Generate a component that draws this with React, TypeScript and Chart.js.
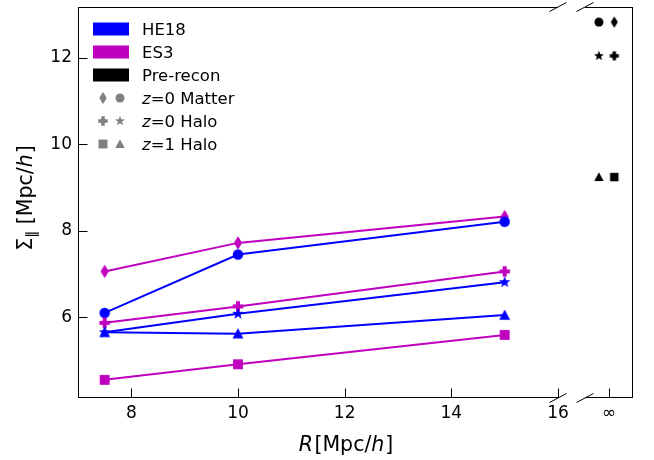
import React, { useEffect, useRef } from 'react';
import { Chart, registerables } from 'chart.js';
Chart.register(...registerables);

// ---- data ----
const R = [7.5, 10, 15];
const xTicks = [8, 10, 12, 14, 16];
const yTicks = [6, 8, 10, 12];
const he18Matter = [6.10, 7.45, 8.21];
const es3Matter = [7.06, 7.72, 8.33];
const he18HaloZ0 = [5.65, 6.08, 6.81];
const es3HaloZ0 = [5.87, 6.25, 7.06];
const he18HaloZ1 = [5.65, 5.62, 6.05];
const es3HaloZ1 = [4.55, 4.91, 5.59];
const preReconSlots = [-0.42, 0.22];
const preReconHE18Style = [12.83, 12.05, 9.245]; // matter, halo z=0, halo z=1 (left slot)
const preReconES3Style = [12.83, 12.05, 9.245]; // matter, halo z=0, halo z=1 (right slot)
const legendPatches = ['HE18', 'ES3', 'Pre-recon'];
const legendMarkerRows = ['=0 Matter', '=0 Halo', '=1 Halo'];

const BLUE = '#0000ff';
const MAGENTA = '#bf00bf';
const BLACK = '#000000';
const GRAY = '#808080';
const FONT = "'DejaVu Sans'";

type Shape = 'circle' | 'diamond' | 'star' | 'plus' | 'triangle' | 'square';

function marker(shape: Shape, color: string, k = 1): HTMLCanvasElement {
  const size = 18;
  const c = document.createElement('canvas');
  c.width = size; c.height = size;
  const ctx = c.getContext('2d')!;
  ctx.fillStyle = color;
  const cx = size / 2, cy = size / 2;
  ctx.beginPath();
  if (shape === 'circle') {
    ctx.arc(cx, cy, 5 * k, 0, Math.PI * 2);
  } else if (shape === 'diamond') {
    const h = 6.4 * k, w = 3.9 * k;
    ctx.moveTo(cx, cy - h); ctx.lineTo(cx + w, cy); ctx.lineTo(cx, cy + h); ctx.lineTo(cx - w, cy); ctx.closePath();
  } else if (shape === 'square') {
    const r = 4.7 * k;
    ctx.rect(cx - r, cy - r, 2 * r, 2 * r);
  } else if (shape === 'triangle') {
    const r = 5.2 * k;
    ctx.moveTo(cx, cy - r); ctx.lineTo(cx + r, cy + r * 0.85); ctx.lineTo(cx - r, cy + r * 0.85); ctx.closePath();
  } else if (shape === 'star') {
    const ro = 5.8 * k, ri = ro * 0.42;
    for (let i = 0; i < 10; i++) {
      const a = -Math.PI / 2 + (i * Math.PI) / 5;
      const r = i % 2 === 0 ? ro : ri;
      const px = cx + r * Math.cos(a), py = cy + r * Math.sin(a);
      if (i === 0) ctx.moveTo(px, py); else ctx.lineTo(px, py);
    }
    ctx.closePath();
  } else if (shape === 'plus') {
    const o = 5 * k, t = 1.9 * k;
    ctx.moveTo(cx - t, cy - o); ctx.lineTo(cx + t, cy - o); ctx.lineTo(cx + t, cy - t); ctx.lineTo(cx + o, cy - t);
    ctx.lineTo(cx + o, cy + t); ctx.lineTo(cx + t, cy + t); ctx.lineTo(cx + t, cy + o); ctx.lineTo(cx - t, cy + o);
    ctx.lineTo(cx - t, cy + t); ctx.lineTo(cx - o, cy + t); ctx.lineTo(cx - o, cy - t); ctx.lineTo(cx - t, cy - t);
    ctx.closePath();
  }
  ctx.fill();
  return c;
}

function pts(ys: number[]) {
  return R.map((x, i) => ({ x, y: ys[i] }));
}

type Piece = { t: string; it?: boolean; size: number; dy?: number; gap?: number };

function drawPieces(ctx: CanvasRenderingContext2D, pieces: Piece[], cx: number, baseline: number) {
  let total = 0;
  const widths = pieces.map((p) => {
    ctx.font = `${p.it ? 'italic ' : ''}${p.size}px ${FONT}`;
    const w = ctx.measureText(p.t).width + (p.gap || 0);
    total += w;
    return w;
  });
  let x = cx - total / 2;
  pieces.forEach((p, i) => {
    ctx.font = `${p.it ? 'italic ' : ''}${p.size}px ${FONT}`;
    ctx.fillText(p.t, x, baseline + (p.dy || 0));
    x += widths[i];
  });
}

const framePlugin = {
  id: 'frame',
  afterDraw(chart: any) {
    const ctx: CanvasRenderingContext2D = chart.ctx;
    const ys = chart.scales.y, xm = chart.scales.x, xi = chart.scales.xinf;
    const top = chart.chartArea.top, bot = chart.chartArea.bottom;
    const TL = 9.5;
    const line = (x1: number, y1: number, x2: number, y2: number) => {
      ctx.beginPath(); ctx.moveTo(x1, y1); ctx.lineTo(x2, y2); ctx.stroke();
    };
    ctx.save();
    ctx.strokeStyle = '#000';
    ctx.lineWidth = 1;
    ctx.lineCap = 'butt';
    // spines
    line(xm.left, top + 0.5, xm.right, top + 0.5);
    line(xm.left, bot - 0.5, xm.right, bot - 0.5);
    line(xm.left + 0.5, top, xm.left + 0.5, bot);
    line(xi.left, top + 0.5, xi.right, top + 0.5);
    line(xi.left, bot - 0.5, xi.right, bot - 0.5);
    line(xi.right - 0.5, top, xi.right - 0.5, bot);
    // inward ticks
    yTicks.forEach((v) => {
      const y = Math.round(ys.getPixelForValue(v)) + 0.5;
      line(xm.left, y, xm.left + TL, y);
    });
    xTicks.forEach((v) => {
      const x = Math.round(xm.getPixelForValue(v)) + 0.5;
      line(x, bot, x, bot - TL);
    });
    const xinf = Math.round(xi.getPixelForValue(0)) + 0.5;
    line(xinf, bot, xinf, bot - TL);
    // break marks
    [xm.right, xi.left].forEach((x) => {
      [top, bot].forEach((y) => line(x - 8.5, y + 4.5, x + 8.5, y - 4.5));
    });

    // legend
    const rowY = [29, 52, 75, 98, 121, 144];
    const patchColors = [BLUE, MAGENTA, BLACK];
    ctx.textBaseline = 'alphabetic';
    ctx.textAlign = 'left';
    legendPatches.forEach((lab, i) => {
      ctx.fillStyle = patchColors[i];
      ctx.fillRect(93, rowY[i] - 6.5, 36, 13);
      ctx.fillStyle = '#000';
      ctx.font = `16.5px ${FONT}`;
      ctx.fillText(lab, 142, rowY[i] + 6);
    });
    const legendShapes: [Shape, Shape][] = [['diamond', 'circle'], ['plus', 'star'], ['square', 'triangle']];
    legendMarkerRows.forEach((lab, j) => {
      const y = rowY[3 + j];
      const [s1, s2] = legendShapes[j];
      const m1 = marker(s1, GRAY, 0.95), m2 = marker(s2, GRAY, 0.9);
      ctx.drawImage(m1, 103 - m1.width / 2, y - m1.height / 2);
      ctx.drawImage(m2, 120 - m2.width / 2, y - m2.height / 2);
      ctx.fillStyle = '#000';
      ctx.font = `italic 16.5px ${FONT}`;
      ctx.fillText('z', 142, y + 6);
      const zw = ctx.measureText('z').width;
      ctx.font = `16.5px ${FONT}`;
      ctx.fillText(lab, 142 + zw, y + 6);
    });

    // axis titles
    ctx.fillStyle = '#000';
    drawPieces(ctx, [
      { t: 'R', it: true, size: 20.5, gap: 1.5 },
      { t: '[Mpc/', size: 20.5 },
      { t: 'h', it: true, size: 20.5, gap: 1 },
      { t: ']', size: 20.5 },
    ], 346, 451);
    ctx.save();
    ctx.translate(32, 198);
    ctx.rotate(-Math.PI / 2);
    drawPieces(ctx, [
      { t: 'Σ', size: 20.5 },
      { t: '∥', size: 14, dy: 4 },
      { t: ' [Mpc/', size: 20.5 },
      { t: 'h', it: true, size: 20.5, gap: 1 },
      { t: ']', size: 20.5 },
    ], 0, 0);
    ctx.restore();
    ctx.restore();
  },
};

export default function App() {
  const ref = useRef<HTMLCanvasElement>(null);
  useEffect(() => {
    if (!ref.current) return;
    const mk = (s: Shape, c: string, k = 1) => marker(s, c, k);
    const lineDs = (ys: number[], color: string, shape: Shape) => ({
      type: 'line' as const,
      data: pts(ys),
      xAxisID: 'x',
      yAxisID: 'y',
      borderColor: color,
      backgroundColor: color,
      borderWidth: 2,
      pointStyle: mk(shape, color, 1.05),
      pointRadius: 5,
      tension: 0,
      fill: false,
    });
    const preDs = (ys: number[], slot: number, shapes: Shape[]) => ({
      type: 'scatter' as const,
      data: ys.map((y) => ({ x: preReconSlots[slot], y })),
      xAxisID: 'xinf',
      yAxisID: 'y',
      showLine: false,
      borderColor: BLACK,
      backgroundColor: BLACK,
      pointStyle: shapes.map((s) => mk(s, BLACK, 0.9)),
      pointRadius: 5,
    });
    const noPadX = (s: any) => { s.height = 62; s.paddingLeft = 0; s.paddingRight = 0; };
    const chart = new Chart(ref.current, {
      type: 'line',
      data: {
        datasets: [
          lineDs(es3HaloZ1, MAGENTA, 'square'),
          lineDs(he18HaloZ1, BLUE, 'triangle'),
          lineDs(he18HaloZ0, BLUE, 'star'),
          lineDs(es3HaloZ0, MAGENTA, 'plus'),
          lineDs(he18Matter, BLUE, 'circle'),
          lineDs(es3Matter, MAGENTA, 'diamond'),
          preDs(preReconHE18Style, 0, ['circle', 'star', 'triangle']),
          preDs(preReconES3Style, 1, ['diamond', 'plus', 'square']),
        ] as any,
      },
      options: {
        animation: false,
        responsive: false,
        devicePixelRatio: 1,
        events: [],
        layout: { padding: { left: 0, top: 6, right: 21, bottom: 0 } },
        plugins: { legend: { display: false }, tooltip: { enabled: false } },
        scales: {
          y: {
            type: 'linear',
            position: 'left',
            min: 4.13,
            max: 13.18,
            grid: { display: false, drawTicks: false },
            border: { display: false },
            afterBuildTicks: (s: any) => { s.ticks = yTicks.map((v) => ({ value: v })); },
            afterFit: (s: any) => { s.width = 78; s.paddingTop = 0; s.paddingBottom = 0; },
            ticks: { color: '#000', padding: 6, font: { family: 'DejaVu Sans', size: 17 } },
          },
          x: {
            type: 'linear',
            position: 'bottom',
            stack: 'xs',
            stackWeight: 480,
            min: 7,
            max: 16,
            grid: { display: false, drawTicks: false },
            border: { display: false },
            afterBuildTicks: (s: any) => { s.ticks = xTicks.map((v) => ({ value: v })); },
            afterFit: noPadX,
            ticks: { color: '#000', padding: 5, maxRotation: 0, font: { family: 'DejaVu Sans', size: 17 } },
          },
          xgap: {
            type: 'linear',
            position: 'bottom',
            stack: 'xs',
            stackWeight: 27,
            min: 0,
            max: 1,
            grid: { display: false, drawTicks: false },
            border: { display: false },
            ticks: { display: false },
            afterFit: noPadX,
          },
          xinf: {
            type: 'linear',
            position: 'bottom',
            stack: 'xs',
            stackWeight: 48,
            min: -1,
            max: 1,
            grid: { display: false, drawTicks: false },
            border: { display: false },
            afterBuildTicks: (s: any) => { s.ticks = [{ value: 0 }]; },
            afterFit: noPadX,
            ticks: { color: '#000', padding: 5, maxRotation: 0, font: { family: 'DejaVu Sans', size: 17 }, callback: () => '∞' },
          },
        },
      } as any,
      plugins: [framePlugin],
    });
    return () => chart.destroy();
  }, []);
  return (
    <canvas
      ref={ref}
      width={654}
      height={460}
      style={{ position: 'fixed', left: 0, top: 0, width: 654, height: 460, background: '#fff' }}
    />
  );
}
